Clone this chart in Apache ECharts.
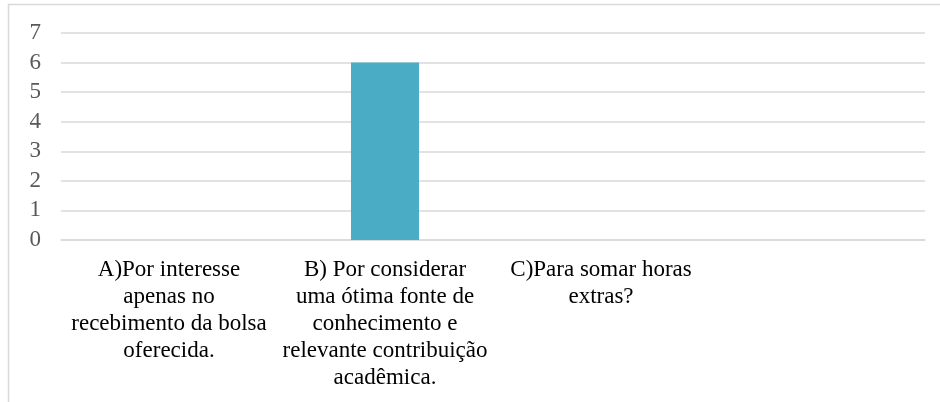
<!DOCTYPE html>
<html>
<head>
<meta charset="utf-8">
<script src="https://cdn.jsdelivr.net/npm/echarts@6/dist/echarts.min.js"></script>
<style>
html,body{margin:0;padding:0;background:#fff;}
#c{width:940px;height:402px;}
</style>
</head>
<body>
<div id="c"></div>
<script>
const categories = [
  "A)Por interesse\napenas no\nrecebimento da bolsa\noferecida.",
  "B) Por considerar\numa ótima fonte de\nconhecimento e\nrelevante contribuição\nacadêmica.",
  "C)Para somar horas\nextras?",
  ""
];
const values = [0, 6, 0, null];
const yTicks = [0, 1, 2, 3, 4, 5, 6, 7];

const chart = echarts.init(document.getElementById('c'), null, {renderer: 'canvas'});
chart.setOption({
  animation: false,
  backgroundColor: '#ffffff',
  graphic: [{
    type: 'rect',
    shape: {x: 8.5, y: 4.5, width: 940, height: 410},
    style: {fill: 'none', stroke: '#d9d9d9', lineWidth: 1.5},
    silent: true
  }],
  grid: {left: 61, right: 15, top: 33, bottom: 162, containLabel: false},
  xAxis: {
    type: 'category',
    data: categories,
    axisLine: {show: true, lineStyle: {color: '#d9d9d9', width: 1.5}},
    axisTick: {show: false},
    axisLabel: {
      interval: 0,
      margin: 16,
      fontFamily: "'Liberation Serif', 'DejaVu Serif', serif",
      fontSize: 23,
      lineHeight: 27,
      color: '#000000',
      align: 'center'
    }
  },
  yAxis: {
    type: 'value',
    min: yTicks[0],
    max: yTicks[yTicks.length - 1],
    interval: 1,
    axisLine: {show: false},
    axisTick: {show: false},
    splitLine: {show: true, lineStyle: {color: '#d9d9d9', width: 1.5}},
    axisLabel: {
      margin: 20,
      fontFamily: "'Liberation Serif', 'DejaVu Serif', serif",
      fontSize: 23,
      color: '#595959'
    }
  },
  series: [{
    type: 'bar',
    data: values,
    barWidth: '31.5%',
    itemStyle: {color: '#4BACC6'}
  }]
});
</script>
</body>
</html>
